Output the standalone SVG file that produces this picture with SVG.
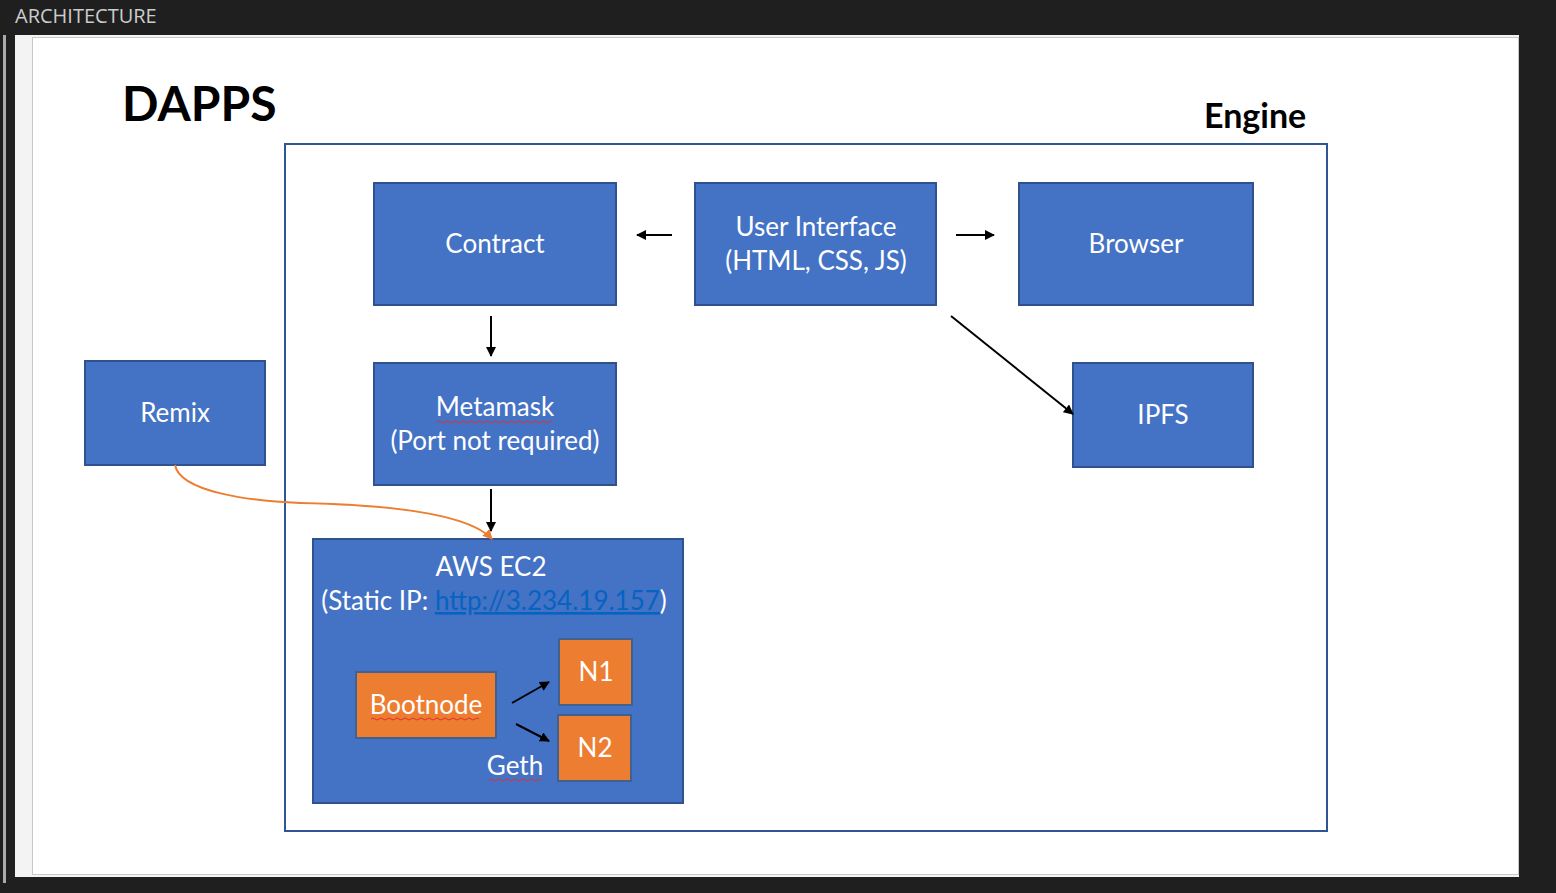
<svg xmlns="http://www.w3.org/2000/svg" width="1556" height="893" viewBox="0 0 1556 893">
<style>
.box{fill:#4472c4;stroke:#2f528f;stroke-width:2}
.obox{fill:#ed7d31;stroke:#41628f;stroke-width:2}
.t{font-family:Lato,"Open Sans",sans-serif;font-size:26px;fill:#fff;text-anchor:middle}
.c{stroke:#000;stroke-width:2;fill:none;marker-end:url(#ah)}
.wavy{stroke:#e03030;stroke-width:1;fill:none}
</style>
<defs>
<marker id="ah" viewBox="0 0 10 10" refX="9" refY="5" markerWidth="5" markerHeight="5" orient="auto" markerUnits="strokeWidth">
<path d="M0,0 L10,5 L0,10 z" fill="#000"/>
</marker>
<marker id="oh" viewBox="0 0 10 10" refX="9" refY="5" markerWidth="5" markerHeight="5" orient="auto" markerUnits="strokeWidth">
<path d="M0,0 L10,5 L0,10 z" fill="#ed7d31"/>
</marker>
</defs>
<rect width="1556" height="893" fill="#1f1f1f"/>
<text x="15" y="23" font-family="'Open Sans',Lato,sans-serif" font-size="20" fill="#cccccc">ARCHITECTURE</text>
<rect x="3" y="35" width="3" height="848" fill="#aaaaaa"/>
<rect x="15" y="35" width="1504" height="842" fill="#f3f3f3"/>
<rect x="32.5" y="37.5" width="1486" height="837" fill="#ffffff" stroke="#c8c8c8" stroke-width="1"/>
<text x="122" y="121" font-family="Lato,'Open Sans',sans-serif" font-weight="bold" font-size="48" fill="#000">DAPPS</text>
<g id="engine">
<rect x="285" y="144" width="1042" height="687" fill="#ffffff" stroke="#2f5597" stroke-width="2"/>
<text x="1204" y="128" font-family="Lato,'Open Sans',sans-serif" font-weight="bold" font-size="34" fill="#000">Engine</text>
</g>
<g id="contract"><rect class="box" x="374" y="183" width="242" height="122"/><text class="t" x="495" y="253">Contract</text></g>
<g id="ui"><rect class="box" x="695" y="183" width="241" height="122"/><text class="t" x="816" y="236">User Interface</text><text class="t" x="816" y="270">(HTML, CSS, JS)</text></g>
<g id="browser"><rect class="box" x="1019" y="183" width="234" height="122"/><text class="t" x="1136" y="253">Browser</text></g>
<g id="metamask"><rect class="box" x="374" y="363" width="242" height="122"/><text class="t" x="495" y="416">Metamask</text><path class="wavy" d="M437,422 q2,-2 4,0 t4,0 t4,0 t4,0 t4,0 t4,0 t4,0 t4,0 t4,0 t4,0 t4,0 t4,0 t4,0 t4,0 t4,0 t4,0 t4,0 t4,0 t4,0 t4,0 t4,0 t4,0 t4,0 t4,0 t4,0 t4,0 t4,0 t4,0 t4,0"/><text class="t" x="495" y="450">(Port not required)</text></g>
<g id="ipfs"><rect class="box" x="1073" y="363" width="180" height="104"/><text class="t" x="1163" y="424">IPFS</text></g>
<g id="remix"><rect class="box" x="85" y="361" width="180" height="104"/><text class="t" x="175" y="422">Remix</text></g>
<g id="aws"><rect class="box" x="313" y="539" width="370" height="264"/><text class="t" x="491" y="576">AWS EC2</text><text class="t" x="494" y="610">(Static IP: <tspan fill="#0563c1" text-decoration="underline">http://3.234.19.157</tspan>)</text><text class="t" x="515" y="775">Geth</text><path class="wavy" d="M489,780 q2,-2 4,0 t4,0 t4,0 t4,0 t4,0 t4,0 t4,0 t4,0 t4,0 t4,0 t4,0 t4,0 t4,0"/></g>
<g id="bootnode"><rect class="obox" x="356" y="672" width="140" height="66"/><text class="t" x="426" y="714">Bootnode</text><path class="wavy" d="M371,719 q2,-2 4,0 t4,0 t4,0 t4,0 t4,0 t4,0 t4,0 t4,0 t4,0 t4,0 t4,0 t4,0 t4,0 t4,0 t4,0 t4,0 t4,0 t4,0 t4,0 t4,0 t4,0 t4,0 t4,0 t4,0 t4,0 t4,0 t4,0"/></g>
<g id="n1"><rect class="obox" x="559" y="639" width="73" height="66"/><text class="t" x="596" y="681">N1</text></g>
<g id="n2"><rect class="obox" x="558" y="715" width="73" height="66"/><text class="t" x="595" y="757">N2</text></g>
<g id="connectors">
<line class="c" x1="672" y1="235" x2="637" y2="235"/>
<line class="c" x1="956" y1="235" x2="994" y2="235"/>
<line class="c" x1="491" y1="316" x2="491" y2="356"/>
<line class="c" x1="491" y1="489" x2="491" y2="531"/>
<line class="c" x1="951" y1="316" x2="1073" y2="414"/>
<line class="c" x1="512" y1="703" x2="549" y2="682"/>
<line class="c" x1="516" y1="724" x2="549" y2="741"/>
<path d="M175,465 C180,492 250,501 300,503 C400,505 470,515 492,539" stroke="#ed7d31" stroke-width="2" fill="none" marker-end="url(#oh)"/>
</g>
</svg>
